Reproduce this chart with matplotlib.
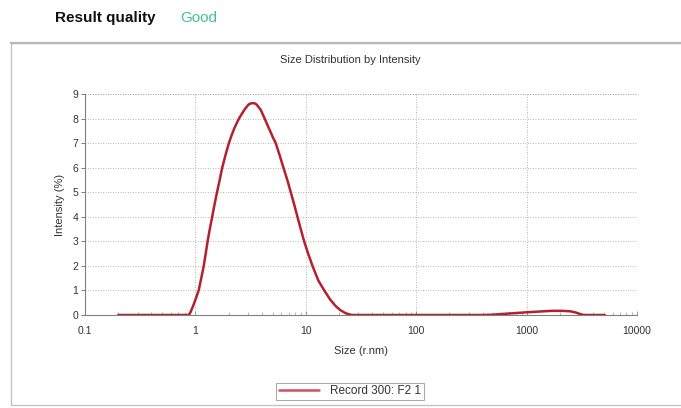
import matplotlib
matplotlib.use("Agg")
import matplotlib.pyplot as plt
from matplotlib.patches import Rectangle
from matplotlib.ticker import FixedLocator, NullFormatter, LogLocator

plt.rcParams['font.family'] = ['Liberation Sans', 'DejaVu Sans']

# Data (size in nm, intensity in %)
size_nm = [0.2, 0.3, 0.5, 0.7, 0.87, 0.9, 0.95, 1.0, 1.07, 1.13, 1.19, 1.24,
           1.29, 1.35, 1.42, 1.49, 1.57, 1.66, 1.75, 1.87, 2.01, 2.12, 2.25,
           2.36, 2.48, 2.6, 2.8, 3.0, 3.1, 3.28, 3.45, 3.6, 3.9, 4.05, 4.24,
           4.5, 4.8, 5.05, 5.34, 5.8, 6.27, 6.8, 7.31, 7.85, 8.4, 9.0, 9.66,
           10.5, 11.5, 13.0, 14.7, 16.5, 18.5, 20.5, 23.0, 26.0, 40.0, 100.0,
           200.0, 400.0, 480.0, 600.0, 800.0, 1000.0, 1300.0, 1700.0, 2100.0,
           2500.0, 2800.0, 3000.0, 3200.0, 3400.0, 5100.0]
intensity_pct = [0.0, 0.0, 0.0, 0.0, 0.0, 0.1, 0.35, 0.62, 1.0, 1.5, 2.0, 2.5,
                 3.0, 3.5, 4.0, 4.5, 5.0, 5.5, 6.0, 6.5, 7.0, 7.3, 7.6,
                 7.8, 8.0, 8.15, 8.38, 8.55, 8.6, 8.63, 8.62, 8.56, 8.36, 8.2, 8.0,
                 7.73, 7.45, 7.22, 7.0, 6.5, 6.0, 5.5, 5.0, 4.5, 4.0, 3.5, 3.0,
                 2.5, 2.0, 1.4, 1.0, 0.65, 0.38, 0.2, 0.07, 0.0, 0.0, 0.0,
                 0.0, 0.0, 0.01, 0.04, 0.08, 0.11, 0.14, 0.17, 0.17,
                 0.15, 0.1, 0.05, 0.01, 0.0, 0.0]
series_label = "Record 300: F2 1"
x_ticks = [0.1, 1, 10, 100, 1000, 10000]
x_tick_labels = ["0.1", "1", "10", "100", "1000", "10000"]
y_ticks = [0, 1, 2, 3, 4, 5, 6, 7, 8, 9]

W, H = 681, 408
fig = plt.figure(figsize=(W / 100, H / 100), dpi=100)

# outer panel frame
fig.patches.append(Rectangle((11 / W, 1 - 405 / H), (W + 5 - 11) / W, (405 - 43) / H,
                             transform=fig.transFigure, fill=False,
                             edgecolor='#c4c4c4', linewidth=1.0))
fig.lines.append(plt.Line2D([11 / W, 1], [1 - 43 / H, 1 - 43 / H],
                            transform=fig.transFigure, color='#b8b8b8', linewidth=1.6))

fig.text(55 / W, 1 - 22 / H, "Result quality", fontsize=11, fontweight='bold',
         color='#111111', va='baseline', ha='left')
fig.text(180 / W, 1 - 22 / H, "Good", fontsize=11, color='#45bf8e',
         va='baseline', ha='left')

left, right = 85 / W, 637 / W
bottom, top = 1 - 315 / H, 1 - 94 / H
ax = fig.add_axes([left, bottom, right - left, top - bottom])

line, = ax.plot(size_nm, intensity_pct, color='#b3202e', linewidth=1.8,
                label=series_label, solid_capstyle='round', solid_joinstyle='round')

ax.set_xscale('log')
ax.set_xlim(0.1, 10000)
ax.set_ylim(0, 9)
ax.xaxis.set_major_locator(FixedLocator(x_ticks))
ax.set_xticklabels(x_tick_labels)
ax.xaxis.set_minor_locator(LogLocator(base=10, subs=range(2, 10)))
ax.xaxis.set_minor_formatter(NullFormatter())
ax.set_yticks(y_ticks)

for s in ['top', 'right']:
    ax.spines[s].set_visible(False)
for s in ['left', 'bottom']:
    ax.spines[s].set_color('#808080')
    ax.spines[s].set_linewidth(0.8)

ax.tick_params(axis='y', which='major', labelsize=7.5, colors='#666666',
               labelcolor='#333333', length=3, width=0.6, pad=2)
ax.tick_params(axis='x', which='major', labelsize=7.5, colors='#888888',
               labelcolor='#333333', direction='in', length=3, width=0.6, pad=8)
ax.tick_params(axis='x', which='minor', direction='in', length=2, width=0.5,
               colors='#999999')

ax.grid(True, which='major', linestyle=(0, (1, 2)), color='#a0a0a0', linewidth=0.6)
ax.axvline(10000, linestyle=(0, (1, 2)), color='#a0a0a0', linewidth=0.6)
ax.axhline(9, linestyle=(0, (1, 2)), color='#a0a0a0', linewidth=0.6)
ax.set_axisbelow(True)

ax.set_xlabel("Size (r.nm)", fontsize=8, color='#333333', labelpad=7)
ax.set_ylabel("Intensity (%)", fontsize=8, color='#333333', labelpad=5)
fig.text(350 / W, 1 - 60 / H, "Size Distribution by Intensity", fontsize=8,
         color='#333333', ha='center', va='center')

leg = fig.legend(handles=[line], loc='center', bbox_to_anchor=(350 / W, 1 - 391.5 / H),
                 fontsize=8.5, frameon=True, fancybox=False, edgecolor='#909090',
                 handlelength=3.4, borderpad=0.25, handletextpad=1.0,
                 borderaxespad=0)
leg.get_frame().set_linewidth(0.7)
for t in leg.get_texts():
    t.set_color('#333333')
leg.get_lines()[0].set_color('#d2505c')

fig.savefig("out.png", dpi=100)
